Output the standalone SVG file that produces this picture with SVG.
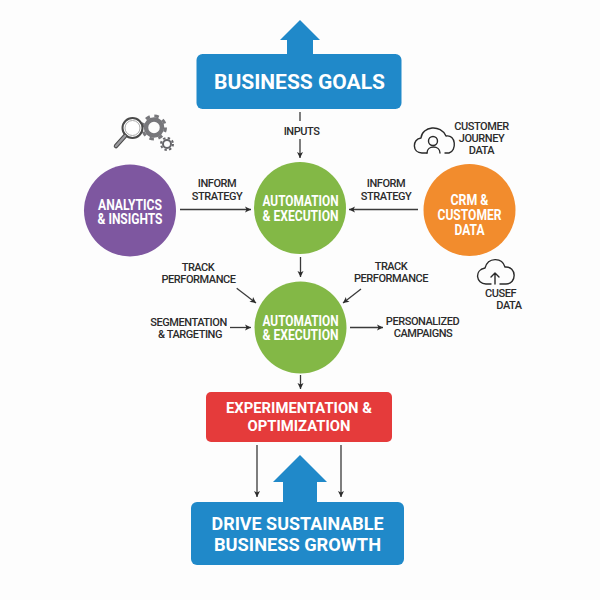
<svg xmlns="http://www.w3.org/2000/svg" width="600" height="600" viewBox="0 0 600 600">
<style>
text{font-family:Roboto,"Liberation Sans",sans-serif;text-anchor:middle}
.w{fill:#fff;font-weight:700}
.b{fill:#fff;font-weight:700;font-size:21px}
.c{fill:#fff;font-weight:700;font-size:14px}
.d{fill:#fff;font-weight:700;font-size:18.800px}
.l{fill:#2b2b2b;font-weight:500;font-size:11px;letter-spacing:-.45px}
.con{stroke:#3a3a3a;stroke-width:1.3;fill:none;marker-end:url(#a)}
.ic{fill:none;stroke:#2a2a2a;stroke-width:1.4;stroke-linecap:round;stroke-linejoin:round}
</style>
<defs><marker id="a" markerUnits="userSpaceOnUse" markerWidth="8" markerHeight="8" refX="7" refY="4" orient="auto"><path d="M1 1L7 4L1 7L2.500 4Z" fill="#2b2b2b"/></marker></defs>
<rect width="600" height="600" fill="#fdfdfd"/>
<g id="connectors">
<path d="M300 112V121" stroke="#3a3a3a" stroke-width="1.300" fill="none"/><path class="con" d="M300 139V158"/>
<path class="con" d="M180 209.500H251"/><path class="con" d="M418 209.500H349"/>
<path class="con" d="M300.500 257V277"/>
<path class="con" d="M236.700 288.300L256 303"/><path class="con" d="M361 289L343 303"/>
<path class="con" d="M230 327.500H251"/><path class="con" d="M350 327.500H383"/>
<path class="con" d="M300.500 375V389"/>
<path class="con" d="M257 445V497"/><path class="con" d="M341 445V497"/>
</g>
<g id="business-goals">
<path d="M300 20L320 40H313V56H287V40H280Z" fill="#2089c9"/>
<rect x="196.500" y="54" width="205" height="55" rx="6" fill="#2089c9"/>
<text class="b" x="299.500" y="89">BUSINESS GOALS</text>
</g>
<g id="inputs"><text class="l" x="301.500" y="134.500">INPUTS</text></g>
<g id="analytics-icon">
<circle cx="154" cy="127.500" r="8" fill="none" stroke="#77777b" stroke-width="4.500"/>
<circle cx="154" cy="127.500" r="11.500" fill="none" stroke="#77777b" stroke-width="3" stroke-dasharray="4.500 4.530"/>
<circle cx="167" cy="144" r="4" fill="none" stroke="#66666a" stroke-width="2"/>
<circle cx="167" cy="144" r="6" fill="none" stroke="#66666a" stroke-width="2" stroke-dasharray="2.400 2.310"/>
<circle cx="132.500" cy="128" r="10" fill="#fff" stroke="#4a4a4a" stroke-width="2"/>
<circle cx="132.500" cy="128" r="7.500" fill="none" stroke="#aaa" stroke-width="1"/>
<path d="M125 136L116 146" stroke="#4a4a4a" stroke-width="4.500" stroke-linecap="round"/>
<path d="M125 136L116 146" stroke="#9a9a9e" stroke-width="2.500" stroke-linecap="round"/>
</g>
<g id="analytics">
<circle cx="130" cy="210.500" r="46" fill="#7e57a0"/>
<text class="c" x="130" y="209.500" textLength="64" lengthAdjust="spacingAndGlyphs">ANALYTICS</text><text class="c" x="130" y="224" textLength="65" lengthAdjust="spacingAndGlyphs">&amp; INSIGHTS</text>
</g>
<g id="inform-left"><text class="l" x="217" y="187">INFORM</text><text class="l" x="217" y="200">STRATEGY</text></g>
<g id="automation-top">
<circle cx="300" cy="208" r="46" fill="#83b846"/>
<text class="c" x="300.500" y="206" textLength="76" lengthAdjust="spacingAndGlyphs">AUTOMATION</text><text class="c" x="300.500" y="220.500" textLength="76" lengthAdjust="spacingAndGlyphs">&amp; EXECUTION</text>
</g>
<g id="inform-right"><text class="l" x="386" y="187">INFORM</text><text class="l" x="386" y="200">STRATEGY</text></g>
<g id="crm">
<circle cx="469.500" cy="210" r="46" fill="#f28c2d"/>
<text class="c" x="469.500" y="205" textLength="38" lengthAdjust="spacingAndGlyphs">CRM &amp;</text><text class="c" x="469.500" y="220" textLength="64" lengthAdjust="spacingAndGlyphs">CUSTOMER</text><text class="c" x="469.500" y="234.500" textLength="30" lengthAdjust="spacingAndGlyphs">DATA</text>
</g>
<g id="journey-icon" class="ic">
<path d="M427 153H422C412 153 412 139 421 138C422 126 441 124 446 136C456 134 457 151 449 153H445"/>
<circle cx="433" cy="141" r="4.500"/>
<path d="M427 153C427 145 440 145 440 153"/>
</g>
<g id="journey-label"><text class="l" x="481.500" y="130">CUSTOMER</text><text class="l" x="481.500" y="142">JOURNEY</text><text class="l" x="481.500" y="154">DATA</text></g>
<g id="cusef-icon" class="ic">
<path d="M491 284H486C476 284 474 270 485 268C488 257 502 257 505 267C517 266 517 284 506 284H500"/>
<path d="M495 284V273M491 277L495 273L499 277"/>
</g>
<g id="cusef-label"><text class="l" x="500.500" y="297">CUSEF</text><text class="l" x="509" y="309">DATA</text></g>
<g id="track-left"><text class="l" x="198" y="271">TRACK</text><text class="l" x="198.500" y="283">PERFORMANCE</text></g>
<g id="track-right"><text class="l" x="391" y="270">TRACK</text><text class="l" x="391" y="282">PERFORMANCE</text></g>
<g id="segmentation"><text class="l" x="188.500" y="326">SEGMENTATION</text><text class="l" x="190" y="338">&amp; TARGETING</text></g>
<g id="automation-mid">
<circle cx="300.500" cy="327.500" r="46" fill="#83b846"/>
<text class="c" x="300.500" y="325.500" textLength="76" lengthAdjust="spacingAndGlyphs">AUTOMATION</text><text class="c" x="300.500" y="340" textLength="76" lengthAdjust="spacingAndGlyphs">&amp; EXECUTION</text>
</g>
<g id="personalized"><text class="l" x="422.500" y="325">PERSONALIZED</text><text class="l" x="423" y="337">CAMPAIGNS</text></g>
<g id="experimentation">
<rect x="206" y="392" width="186" height="50" rx="5" fill="#e53b3b"/>
<text class="w" font-size="14.800" x="299" y="413">EXPERIMENTATION &amp;</text><text class="w" font-size="14.800" x="299" y="431">OPTIMIZATION</text>
</g>
<g id="drive-growth">
<path d="M300 455L327 482H317V504H283V482H273Z" fill="#2089c9"/>
<rect x="191" y="502" width="213" height="63" rx="6" fill="#2089c9"/>
<text class="d" x="297.500" y="529.500" textLength="172" lengthAdjust="spacingAndGlyphs">DRIVE SUSTAINABLE</text><text class="d" x="297.500" y="550.500" textLength="167" lengthAdjust="spacingAndGlyphs">BUSINESS GROWTH</text>
</g>
</svg>
